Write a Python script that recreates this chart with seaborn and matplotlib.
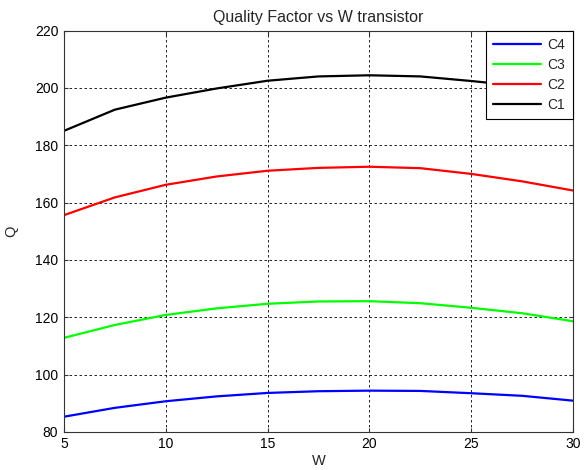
import numpy as np
import pandas as pd
import matplotlib
matplotlib.use("Agg")
import matplotlib.pyplot as plt
import seaborn as sns

W = [5, 7.5, 10, 12.5, 15, 17.5, 20, 22.5, 25, 27.5, 30]
C1 = [185.0, 192.4, 196.6, 199.8, 202.5, 204.0, 204.4, 204.0, 202.4, 200.6, 198.5]
C2 = [155.6, 161.8, 166.2, 169.1, 171.1, 172.1, 172.5, 172.0, 170.0, 167.4, 164.2]
C3 = [112.8, 117.3, 120.8, 123.1, 124.7, 125.5, 125.6, 124.9, 123.3, 121.4, 118.6]
C4 = [85.3, 88.4, 90.7, 92.4, 93.6, 94.2, 94.4, 94.3, 93.5, 92.6, 90.9]
series_names = ["C4", "C3", "C2", "C1"]
colors = {"C4": "#0000ff", "C3": "#00ff00", "C2": "#ff0000", "C1": "#000000"}

frames = []
for name, vals in zip(["C1", "C2", "C3", "C4"], [C1, C2, C3, C4]):
    frames.append(pd.DataFrame({"W": W, "Q": vals, "series": name}))
df = pd.concat(frames, ignore_index=True)

sns.set_style("white")
plt.rcParams['font.family'] = ['Liberation Sans', 'DejaVu Sans']

fig = plt.figure(figsize=(5.86, 4.70), dpi=100)
ax = fig.add_axes([0.109, 0.081, 0.869, 0.854])

sns.lineplot(data=df, x="W", y="Q", hue="series", hue_order=series_names,
             palette=colors, linewidth=1.6, ax=ax, sort=True)

ax.set_xlim(5, 30)
ax.set_ylim(80, 220)
ax.set_xticks([5, 10, 15, 20, 25, 30])
ax.set_yticks(list(range(80, 221, 20)))
ax.grid(True, color="black", linestyle=(0, (3, 3)), linewidth=0.6)
for s in ax.spines.values():
    s.set_color("#333333")
    s.set_linewidth(0.8)
ax.tick_params(direction="in", length=3, labelsize=10, colors="#333333", labelcolor="black",
               top=True, right=True, bottom=True, left=True, pad=4)

ax.set_title("Quality Factor vs W transistor", fontsize=11.5, pad=6)
ax.set_xlabel("W", fontsize=10.5, labelpad=2)
ax.set_ylabel("Q", fontsize=10.5, labelpad=12)

leg = ax.legend(loc="upper right", fontsize=10, frameon=True, fancybox=False,
                edgecolor="black", framealpha=1, handlelength=3.4, handletextpad=0.5,
                borderaxespad=0, labelspacing=0.42, borderpad=0.55)
leg.get_frame().set_linewidth(0.8)
for line in leg.get_lines():
    line.set_linewidth(1.6)

fig.savefig("out.png", dpi=100)
